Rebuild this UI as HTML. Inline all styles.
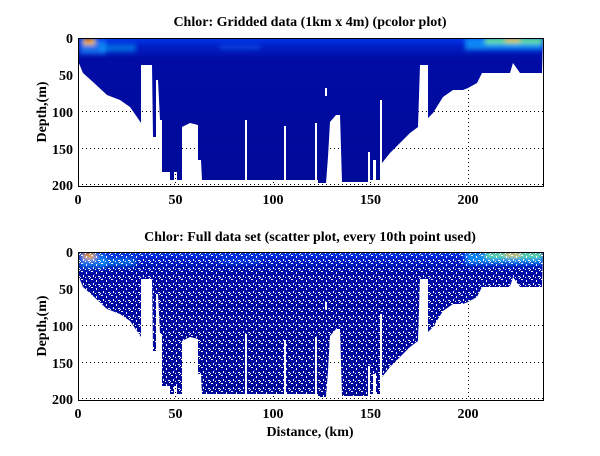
<!DOCTYPE html>
<html><head><meta charset="utf-8"><style>
html,body{margin:0;padding:0;background:#fff;}
svg text{font-family:"Liberation Serif",serif;font-weight:bold;fill:#000;}
</style></head><body>
<svg width="600" height="451" viewBox="0 0 600 451" xmlns="http://www.w3.org/2000/svg">
<defs>
<polygon id="shape" points="78,38 543,38 542,73 520,73 513,63 510,73 482,73 477,83 468,88 463,90 453,90 443,97 433,113 428,118 428,65 420,65 418,127 410,133 400,143 390,153 382,163 382,100 380,100 380,180 376,180 376,160 373,160 373,180 370,180 370,152 368,152 368,182 342,182 340,115 336,115 330,122 328,157 326,183 318,183 318,180 202,180 201,160 198,160 198,125 190,123 182,127 182,180 177,180 177,172 174,172 174,180 170,180 170,172 162,172 162,120 160,120 158,80 156,80 156,137 153,137 152,65 141,65 141,123 137,117 130,107 120,100 107,95 93,82 83,73 78,61"/>
<clipPath id="cp"><use href="#shape"/></clipPath>
<linearGradient id="surf" x1="0" y1="0" x2="0" y2="1">
<stop offset="0" stop-color="#0038f0"/><stop offset="0.05" stop-color="#0020c8"/><stop offset="0.14" stop-color="#000ca4"/><stop offset="1" stop-color="#000a98"/>
</linearGradient>
<filter id="bl" x="-20%" y="-50%" width="140%" height="200%"><feGaussianBlur stdDeviation="2.5"/></filter>
<pattern id="dots" width="10" height="8" patternUnits="userSpaceOnUse">
<rect x="1" y="1" width="2" height="1" fill="#fff"/><rect x="6" y="2" width="1" height="2" fill="#fff"/><rect x="8" y="6" width="2" height="1" fill="#fff"/><rect x="3" y="5" width="1" height="2" fill="#fff"/><rect x="9" y="0" width="1" height="1" fill="#fff"/><rect x="0" y="7" width="1" height="1" fill="#fff"/><rect x="5" y="7" width="1" height="1" fill="#fff"/>
</pattern>
<g id="data">
<g clip-path="url(#cp)">
<rect x="78" y="38" width="466" height="150" fill="url(#surf)"/>
<g filter="url(#bl)">
<rect x="80" y="40" width="26" height="14" fill="#2090ff" opacity="0.7"/>
<rect x="100" y="44" width="36" height="8" fill="#00b0ff" opacity="0.5"/>
<rect x="83" y="38" width="12" height="7" fill="#ffd000"/>
<rect x="85" y="38" width="7" height="4" fill="#e02000"/>
<rect x="220" y="45" width="40" height="4" fill="#1070ff" opacity="0.5"/>
<rect x="465" y="38" width="78" height="12" fill="#10a0ff" opacity="0.8"/>
<rect x="485" y="38" width="58" height="6" fill="#80ff80" opacity="0.8"/>
<rect x="505" y="38" width="15" height="4" fill="#ffd000"/>
</g>
</g>
<rect x="245" y="120" width="2" height="62" fill="#fff"/>
<rect x="284" y="126" width="2" height="56" fill="#fff"/>
<rect x="315" y="123" width="2" height="58" fill="#fff"/>
<rect x="325" y="88" width="2" height="8" fill="#fff"/>
</g>
</defs>
<rect width="600" height="451" fill="#fff"/>
<g stroke="#000" stroke-width="1" stroke-dasharray="1,3">
<line x1="78" y1="111.5" x2="543" y2="111.5"/><line x1="78" y1="148.5" x2="543" y2="148.5"/><line x1="78" y1="184.5" x2="543" y2="184.5"/>
<line x1="175.5" y1="38" x2="175.5" y2="186"/><line x1="273.5" y1="38" x2="273.5" y2="186"/><line x1="370.5" y1="38" x2="370.5" y2="186"/><line x1="468.5" y1="38" x2="468.5" y2="186"/>
<line x1="78" y1="325.5" x2="543" y2="325.5"/><line x1="78" y1="362.5" x2="543" y2="362.5"/><line x1="78" y1="398.5" x2="543" y2="398.5"/>
<line x1="175.5" y1="252" x2="175.5" y2="400"/><line x1="273.5" y1="252" x2="273.5" y2="400"/><line x1="370.5" y1="252" x2="370.5" y2="400"/><line x1="468.5" y1="252" x2="468.5" y2="400"/>
</g>
<use href="#data"/>
<g transform="translate(0,214)">
<use href="#data"/>
<use href="#shape" fill="url(#dots)"/>
</g>
<g fill="none" stroke="#000" stroke-width="1">
<rect x="78.5" y="38.5" width="465" height="148"/>
<rect x="78.5" y="252.5" width="465" height="148"/>
</g>
<g font-size="14" text-anchor="middle">
<text x="310" y="26">Chlor: Gridded data (1km x 4m) (pcolor plot)</text>
<text x="310" y="241">Chlor: Full data set (scatter plot, every 10th point used)</text>
<text x="78" y="204">0</text><text x="175.5" y="204">50</text><text x="273" y="204">100</text><text x="370.5" y="204">150</text><text x="468" y="204">200</text>
<text x="78" y="418">0</text><text x="175.5" y="418">50</text><text x="273" y="418">100</text><text x="370.5" y="418">150</text><text x="468" y="418">200</text>
<text x="310" y="436">Distance, (km)</text>
</g>
<g font-size="14" text-anchor="end">
<text x="73" y="43">0</text><text x="73" y="80">50</text><text x="73" y="117">100</text><text x="73" y="154">150</text><text x="73" y="190">200</text>
<text x="73" y="257">0</text><text x="73" y="294">50</text><text x="73" y="331">100</text><text x="73" y="368">150</text><text x="73" y="404">200</text>
</g>
<g font-size="14" text-anchor="middle">
<text transform="translate(46,112) rotate(-90)">Depth,(m)</text>
<text transform="translate(46,326) rotate(-90)">Depth,(m)</text>
</g>
</svg>
</body></html>
